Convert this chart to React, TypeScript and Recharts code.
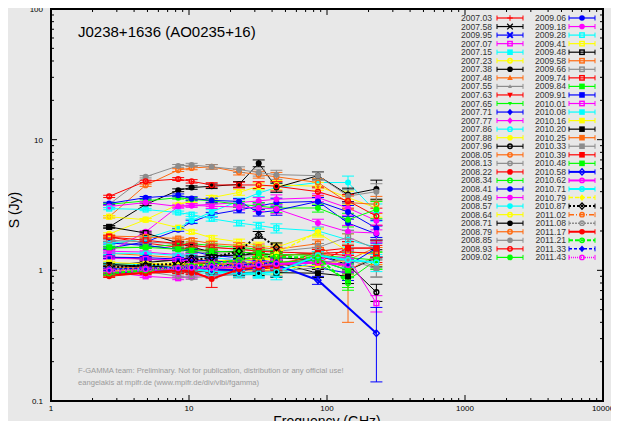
import React from 'react';
import { ComposedChart, Line, XAxis, YAxis, ErrorBar, ReferenceLine, ReferenceArea } from 'recharts';

const freqs = [2.64, 4.85, 8.35, 10.45, 14.6, 23.05, 32, 43, 86, 142, 228];

const labels = [
  '2007.03','2007.58','2009.95','2007.07','2007.15','2007.23','2007.38','2007.48','2007.55','2007.63',
  '2007.65','2007.71','2007.77','2007.86','2007.88','2007.96','2008.05','2008.13','2008.22','2008.34',
  '2008.41','2008.49','2008.57','2008.64','2008.71','2008.79','2008.85','2008.93','2009.02',
  '2009.06','2009.18','2009.28','2009.41','2009.48','2009.58','2009.66','2009.74','2009.84','2009.91',
  '2010.01','2010.08','2010.16','2010.20','2010.25','2010.33','2010.39','2010.48','2010.58','2010.62',
  '2010.71','2010.79','2010.87','2011.02','2011.08','2011.17','2011.21','2011.33','2011.43',
];

const palette = ['#ff0000','#000000','#0000ff','#ff00ff','#00ffff','#ffff00','#000000','#ff6a10','#8c8c8c','#ff0000','#00ff00','#0000ff','#ff00ff','#00ffff','#ffff00','#000000','#ff6a10','#8c8c8c','#ff0000','#00ff00','#0000ff','#ff00ff','#00ffff','#ffff00','#000000','#ff6a10','#8c8c8c','#ff0000','#00ff00'];
const seriesColors = [...palette, '#0000ff', ...palette.slice(3), '#0000ff', '#ff00ff'].slice(0, 58);

const seriesMarkers = [
  'plus','x','xb','sqo','sq','co','c','tu','tus','td','tds','d','ds','co','cs','co','co','co','c','co','c','c','c','co','c','co','c','co','c',
  'c','c','sqo','sqo','sqo','sqo','sqo','sqo','sq','sq','sqo','sq','sq','sq','sq','sq','sq','sq','do','co','co','d','do','co','co','c','co','d','co',
];

const seriesDash: Record<number, string> = { 50: '4 2', 51: '2 2', 52: '5 2 1 2', 53: '2 1', 55: '4 2', 56: '3 2', 57: '1 1' };
const seriesWidth: Record<number, number> = { 47: 2, 48: 2, 49: 2, 50: 1.5, 51: 2, 52: 1.5, 53: 1.5, 54: 2, 55: 2, 56: 1.5, 57: 1.5 };

type V = number | null;
const fluxes: V[][] = [
  [1.13,1.12,1.10,1.08,1.05,1.02,1.0,0.98,null,null,null],
  [1.05,1.08,1.12,1.12,1.15,1.2,1.25,1.3,null,null,null],
  [1.02,1.05,1.02,1.0,1.0,1.05,1.08,1.1,1.3,1.1,null],
  [0.97,0.9,0.87,0.9,0.92,0.95,null,null,null,null,null],
  [1.05,1.0,0.98,0.96,0.95,0.92,0.93,null,null,null,null],
  [1.0,1.05,1.08,1.1,1.12,1.15,1.2,1.22,null,null,null],
  [1.26,1.22,1.18,1.15,1.12,1.1,1.12,1.15,0.95,null,null],
  [1.35,1.3,1.25,1.22,1.18,1.15,1.12,1.15,1.2,1.05,null],
  [1.68,1.55,1.45,1.4,1.35,1.3,1.28,1.25,null,null,null],
  [1.8,1.62,1.5,1.45,1.4,1.38,1.35,1.3,1.35,1.3,null],
  [1.48,1.5,1.58,1.6,1.55,1.5,1.45,1.4,null,null,null],
  [1.62,1.55,1.45,1.4,1.3,1.25,1.2,1.15,1.05,0.95,null],
  [1.40,1.38,1.32,1.3,1.25,1.2,1.18,1.15,null,null,null],
  [1.35,1.35,1.3,1.28,1.25,1.2,1.15,1.1,null,null,null],
  [1.1,1.12,1.15,1.15,1.18,1.2,1.22,1.25,null,null,null],
  [1.1,1.15,1.2,1.25,1.3,1.3,1.35,1.3,1.35,1.1,0.68],
  [1.0,1.05,1.1,1.12,1.15,1.2,1.25,1.3,1.35,1.2,1.5],
  [0.95,0.98,0.9,0.88,0.9,0.93,0.95,0.98,1.05,1.3,1.05],
  [0.9,0.95,0.97,0.96,1.0,1.0,1.02,1.05,1.4,1.48,1.48],
  [0.93,1.0,1.05,1.02,1.0,1.05,1.1,1.15,1.13,0.84,1.2],
  [1.48,1.65,2.04,2.35,2.67,2.9,3.1,3.3,3.37,2.3,1.9],
  [1.38,1.97,3.08,3.14,3.2,3.3,3.4,3.5,3.6,3.0,2.4],
  [1.6,1.75,2.1,2.4,2.8,3.4,3.9,4.3,4.7,4.7,2.8],
  [1.9,2.44,3.19,3.4,3.6,3.95,4.4,4.5,4.4,3.6,3.0],
  [2.15,3.19,4.1,4.3,4.4,4.55,6.6,4.3,5.3,3.8,4.2],
  [2.57,4.48,5.85,6.07,6.2,5.65,5.4,5.2,4.7,3.3,3.2],
  [3.2,5.2,6.3,6.4,6.2,5.9,5.6,5.4,5.3,3.7,4.0],
  [3.68,4.8,5.0,4.8,4.5,4.5,4.5,4.4,4.0,3.4,2.6],
  [3.2,3.4,3.6,3.5,3.4,3.2,3.1,3.0,3.0,2.44,2.92],
  [3.25,3.6,3.75,3.55,3.43,3.37,2.77,2.87,3.37,2.8,2.1],
  [3.08,3.3,3.08,3.14,3.1,3.05,3.0,2.95,2.3,1.97,1.93],
  [2.97,2.92,2.77,2.67,2.48,2.3,2.2,2.1,2.0,1.71,1.5],
  [2.57,2.44,2.12,1.97,1.77,1.65,1.55,1.5,1.93,1.4,1.3],
  [2.15,1.93,1.62,1.51,1.38,1.4,1.3,1.25,1.2,1.0,1.25],
  [1.83,1.8,1.75,1.7,1.6,1.55,1.5,1.45,1.6,1.0,1.3],
  [1.7,1.65,1.6,1.55,1.5,1.45,1.42,1.4,1.5,1.8,1.45],
  [1.8,1.7,1.6,1.55,1.5,1.45,1.4,1.38,1.35,1.38,1.35],
  [1.5,1.5,1.45,1.42,1.4,1.38,1.35,1.32,1.3,1.25,1.2],
  [1.26,1.25,1.22,1.2,1.18,1.15,1.12,1.1,1.2,1.09,1.48],
  [1.24,1.22,1.2,1.18,1.15,1.12,1.1,1.1,1.24,1.26,0.56],
  [1.13,1.1,1.05,1.02,1.0,0.95,0.93,0.92,1.2,1.0,null],
  [1.15,1.12,1.1,1.08,1.05,1.02,1.0,1.02,1.1,1.2,null],
  [1.1,1.08,1.05,1.0,0.98,0.96,0.97,0.96,0.95,0.9,null],
  [1.05,1.05,1.05,1.05,1.06,1.08,1.1,1.12,1.3,1.2,null],
  [1.0,1.0,1.0,1.0,1.0,1.02,1.05,1.08,1.15,1.2,1.04],
  [1.0,1.0,1.02,1.02,1.05,1.06,1.08,1.1,1.15,1.48,1.48],
  [0.98,1.0,1.02,1.05,1.08,1.1,1.12,1.15,1.2,1.0,null],
  [0.95,1.0,1.02,1.05,1.02,1.0,1.05,1.1,0.84,null,0.33],
  [0.97,1.0,1.03,1.05,1.04,1.06,1.1,1.12,1.15,1.1,null],
  [1.0,1.02,1.05,1.02,0.98,0.95,0.95,0.97,1.3,1.2,1.15],
  [0.99,1.02,1.06,1.05,1.08,1.12,1.2,1.35,1.97,null,null],
  [1.05,1.1,1.12,1.2,1.25,1.4,1.87,1.5,null,null,null],
  [1.0,1.02,1.05,1.08,1.1,1.12,1.15,1.18,null,null,null],
  [1.02,1.03,1.04,1.05,1.06,1.08,1.1,1.1,null,null,null],
  [0.92,0.96,1.0,0.98,0.86,1.02,1.05,1.08,null,null,null],
  [0.95,1.0,1.05,1.08,1.12,1.2,1.28,1.27,1.25,0.8,null],
  [1.02,1.04,1.05,1.06,1.08,1.1,1.12,1.15,null,null,null],
  [1.0,1.02,1.04,1.05,1.06,1.08,1.1,1.12,null,null,null],
];

const errFrac = [0.02,0.02,0.025,0.03,0.04,0.05,0.06,0.08,0.07,0.12,0.15];
// [series, freq index, lower, upper]
const bigErrors: [number, number, number, number][] = [
  [34, 9, 0.6, 0.9],
  [47, 10, 0.19, 0.19],
  [54, 4, 0.12, 0.1],
  [24, 10, 0.7, 0.7],
  [39, 10, 0.08, 0.08],
];

const xMajor = [1, 10, 100, 1000, 10000];
const yMajor = [0.1, 1, 10, 100];
const cornerTicks = ['2010.0', '2010.5', '2011.0', '2011.5'];

function Marker({ cx, cy, shape, color, size = 3 }: any) {
  if (cx == null || cy == null || isNaN(cx) || isNaN(cy)) return <g />;
  let r = size;
  if (shape.length > 2 && shape.endsWith('s') && shape !== 'plus') r = size * 0.7;
  const s = shape === 'tus' ? 'tu' : shape === 'tds' ? 'td' : shape === 'ds' ? 'd' : shape === 'cs' ? 'c' : shape;
  switch (s) {
    case 'plus':
      return <g stroke={color} strokeWidth={1}><line x1={cx - r} x2={cx + r} y1={cy} y2={cy} /><line x1={cx} x2={cx} y1={cy - r} y2={cy + r} /></g>;
    case 'x':
      return <g stroke={color} strokeWidth={1.2}><line x1={cx - r} x2={cx + r} y1={cy - r} y2={cy + r} /><line x1={cx - r} x2={cx + r} y1={cy + r} y2={cy - r} /></g>;
    case 'xb':
      return <g stroke={color} strokeWidth={2}><line x1={cx - r} x2={cx + r} y1={cy - r} y2={cy + r} /><line x1={cx - r} x2={cx + r} y1={cy + r} y2={cy - r} /></g>;
    case 'sq':
      return <rect x={cx - r} y={cy - r} width={2 * r} height={2 * r} fill={color} />;
    case 'sqo':
      return <rect x={cx - r + 0.6} y={cy - r + 0.6} width={2 * r - 1.2} height={2 * r - 1.2} fill="none" stroke={color} strokeWidth={1.4} />;
    case 'c':
      return <circle cx={cx} cy={cy} r={r} fill={color} />;
    case 'co':
      return <circle cx={cx} cy={cy} r={r - 0.6} fill="none" stroke={color} strokeWidth={1.4} />;
    case 'tu':
      return <polygon points={`${cx},${cy - r * 1.1} ${cx - r},${cy + r * 0.8} ${cx + r},${cy + r * 0.8}`} fill={color} />;
    case 'td':
      return <polygon points={`${cx},${cy + r * 1.1} ${cx - r},${cy - r * 0.8} ${cx + r},${cy - r * 0.8}`} fill={color} />;
    case 'd':
      return <polygon points={`${cx},${cy - r * 1.2} ${cx + r},${cy} ${cx},${cy + r * 1.2} ${cx - r},${cy}`} fill={color} />;
    case 'do':
      return <polygon points={`${cx},${cy - r * 1.1} ${cx + r},${cy} ${cx},${cy + r * 1.1} ${cx - r},${cy}`} fill="none" stroke={color} strokeWidth={1.4} />;
    default:
      return <circle cx={cx} cy={cy} r={r} fill={color} />;
  }
}

function buildSeries(si: number) {
  const vals = fluxes[si];
  const rows: { f: number; v: number; e: number | [number, number] }[] = [];
  vals.forEach((v, i) => {
    if (v == null) return;
    const big = bigErrors.find((b) => b[0] === si && b[1] === i);
    rows.push({ f: freqs[i], v, e: big ? [big[2], big[3]] : v * errFrac[i] });
  });
  return rows;
}

function tickLines() {
  const out: React.ReactNode[] = [];
  const major = 6, minor = 3;
  const xDec = 138, yDec = 131;
  for (let d = 0; d < 4; d++) {
    for (let m = 1; m <= 9; m++) {
      const x = m * Math.pow(10, d);
      if (x === 1) continue;
      const len = m === 1 ? major : minor;
      const fy = Math.pow(10, len / yDec);
      out.push(<ReferenceLine key={`b${x}`} segment={[{ x, y: 0.1 }, { x, y: 0.1 * fy }]} stroke="#000" strokeWidth={1} />);
      out.push(<ReferenceLine key={`t${x}`} segment={[{ x, y: 100 }, { x, y: 100 / fy }]} stroke="#000" strokeWidth={1} />);
    }
  }
  for (let d = -1; d < 2; d++) {
    for (let m = 1; m <= 9; m++) {
      const y = m * Math.pow(10, d);
      if (Math.abs(y - 0.1) < 1e-9) continue;
      const len = m === 1 ? major : minor;
      const fx = Math.pow(10, len / xDec);
      out.push(<ReferenceLine key={`l${y}`} segment={[{ x: 1, y }, { x: fx, y }]} stroke="#000" strokeWidth={1} />);
      out.push(<ReferenceLine key={`r${y}`} segment={[{ x: 10000, y }, { x: 10000 / fx, y }]} stroke="#000" strokeWidth={1} />);
    }
  }
  return out;
}

function Legend() {
  const items: React.ReactNode[] = [];
  labels.forEach((lab, i) => {
    const col = i < 29 ? 0 : 1;
    const row = col === 0 ? i : i - 29;
    const y = 18 + row * 8.55;
    const tx = col === 0 ? 492 : 566;
    const x1 = col === 0 ? 497 : 569;
    const x2 = col === 0 ? 523 : 595;
    const mx = (x1 + x2) / 2;
    const c = seriesColors[i];
    const w = seriesWidth[i] ?? 1.2;
    items.push(
      <g key={lab}>
        <text x={tx} y={y + 3} textAnchor="end" fontSize={8.6} fill="#333" fontFamily="Liberation Sans, Arial, sans-serif">{lab}</text>
        <line x1={x1} x2={x2} y1={y} y2={y} stroke={c} strokeWidth={w} strokeDasharray={seriesDash[i]} />
        <line x1={x1} x2={x1} y1={y - 2.5} y2={y + 2.5} stroke={c} strokeWidth={1} />
        <line x1={x2} x2={x2} y1={y - 2.5} y2={y + 2.5} stroke={c} strokeWidth={1} />
        <Marker cx={mx} cy={y} shape={seriesMarkers[i]} color={c} size={2.8} />
      </g>
    );
  });
  return <g>{items}</g>;
}

export default function App() {
  const font = 'Liberation Sans, Arial, Helvetica, sans-serif';
  return (
    <div style={{ position: 'relative', width: 619, height: 429, margin: -8, background: '#e8e8e8', overflow: 'hidden', fontFamily: font }}>
      <ComposedChart width={619} height={429} margin={{ top: 9, right: 16, bottom: 8, left: 7 }} style={{ position: 'absolute', left: 0, top: 0 }}>
        <XAxis type="number" dataKey="f" scale="log" domain={[1, 10000]} ticks={xMajor} allowDataOverflow
          tickLine={false} axisLine={false} height={20} tickMargin={0} tickSize={4}
          tick={{ fontSize: 8, fill: '#000', fontFamily: font }} tickFormatter={(v: number) => String(v)} />
        <YAxis type="number" scale="log" domain={[0.1, 100]} ticks={yMajor} allowDataOverflow
          tickLine={false} axisLine={false} width={44}
          tick={{ fontSize: 8, fill: '#000', fontFamily: font }} tickFormatter={(v: number) => String(v)} />
        {labels.map((lab, si) => (
          <Line key={lab} data={buildSeries(si)} dataKey="v" type="linear" stroke={seriesColors[si]}
            strokeWidth={seriesWidth[si] ?? 1} strokeDasharray={seriesDash[si]} isAnimationActive={false}
            dot={(p: any) => <Marker key={`${lab}-${p.index}`} cx={p.cx} cy={p.cy} shape={seriesMarkers[si]} color={seriesColors[si]} />}
            activeDot={false} legendType="none">
            <ErrorBar dataKey="e" width={6} stroke={seriesColors[si]} strokeWidth={1} direction="y" />
          </Line>
        ))}
        {tickLines()}
        <ReferenceArea x1={1} x2={10000} y1={0.1} y2={100} fill="none" stroke="#000" strokeWidth={2} />
      </ComposedChart>
      <svg width={619} height={429} style={{ position: 'absolute', left: 0, top: 0, pointerEvents: 'none' }} fontFamily={font}>
        <g fontSize={5} fill="#777">
          {cornerTicks.map((t, i) => <text key={t} x={3 + i * 17.5} y={5}>{t}</text>)}
        </g>
        <text x={78} y={37} fontSize={15} fill="#000">J0238+1636 (AO0235+16)</text>
        <text x={78} y={373} fontSize={7.6} fill="#9a9a9a">F-GAMMA team: Preliminary. Not for publication, distribution or any official use!</text>
        <text x={78} y={385} fontSize={7.6} fill="#9a9a9a">eangelakis at mpifr.de (www.mpifr.de/div/vlbi/fgamma)</text>
        <text x={19} y={210} fontSize={14} fill="#000" textAnchor="middle" transform="rotate(-90 19 210)">S (Jy)</text>
        <text x={327} y={426} fontSize={14} fill="#000" textAnchor="middle">Frequency (GHz)</text>
        <Legend />
        <rect x={0} y={424} width={212} height={5} fill="#000" />
        <rect x={212} y={424} width={407} height={5} fill="#3535c8" />
      </svg>
    </div>
  );
}
